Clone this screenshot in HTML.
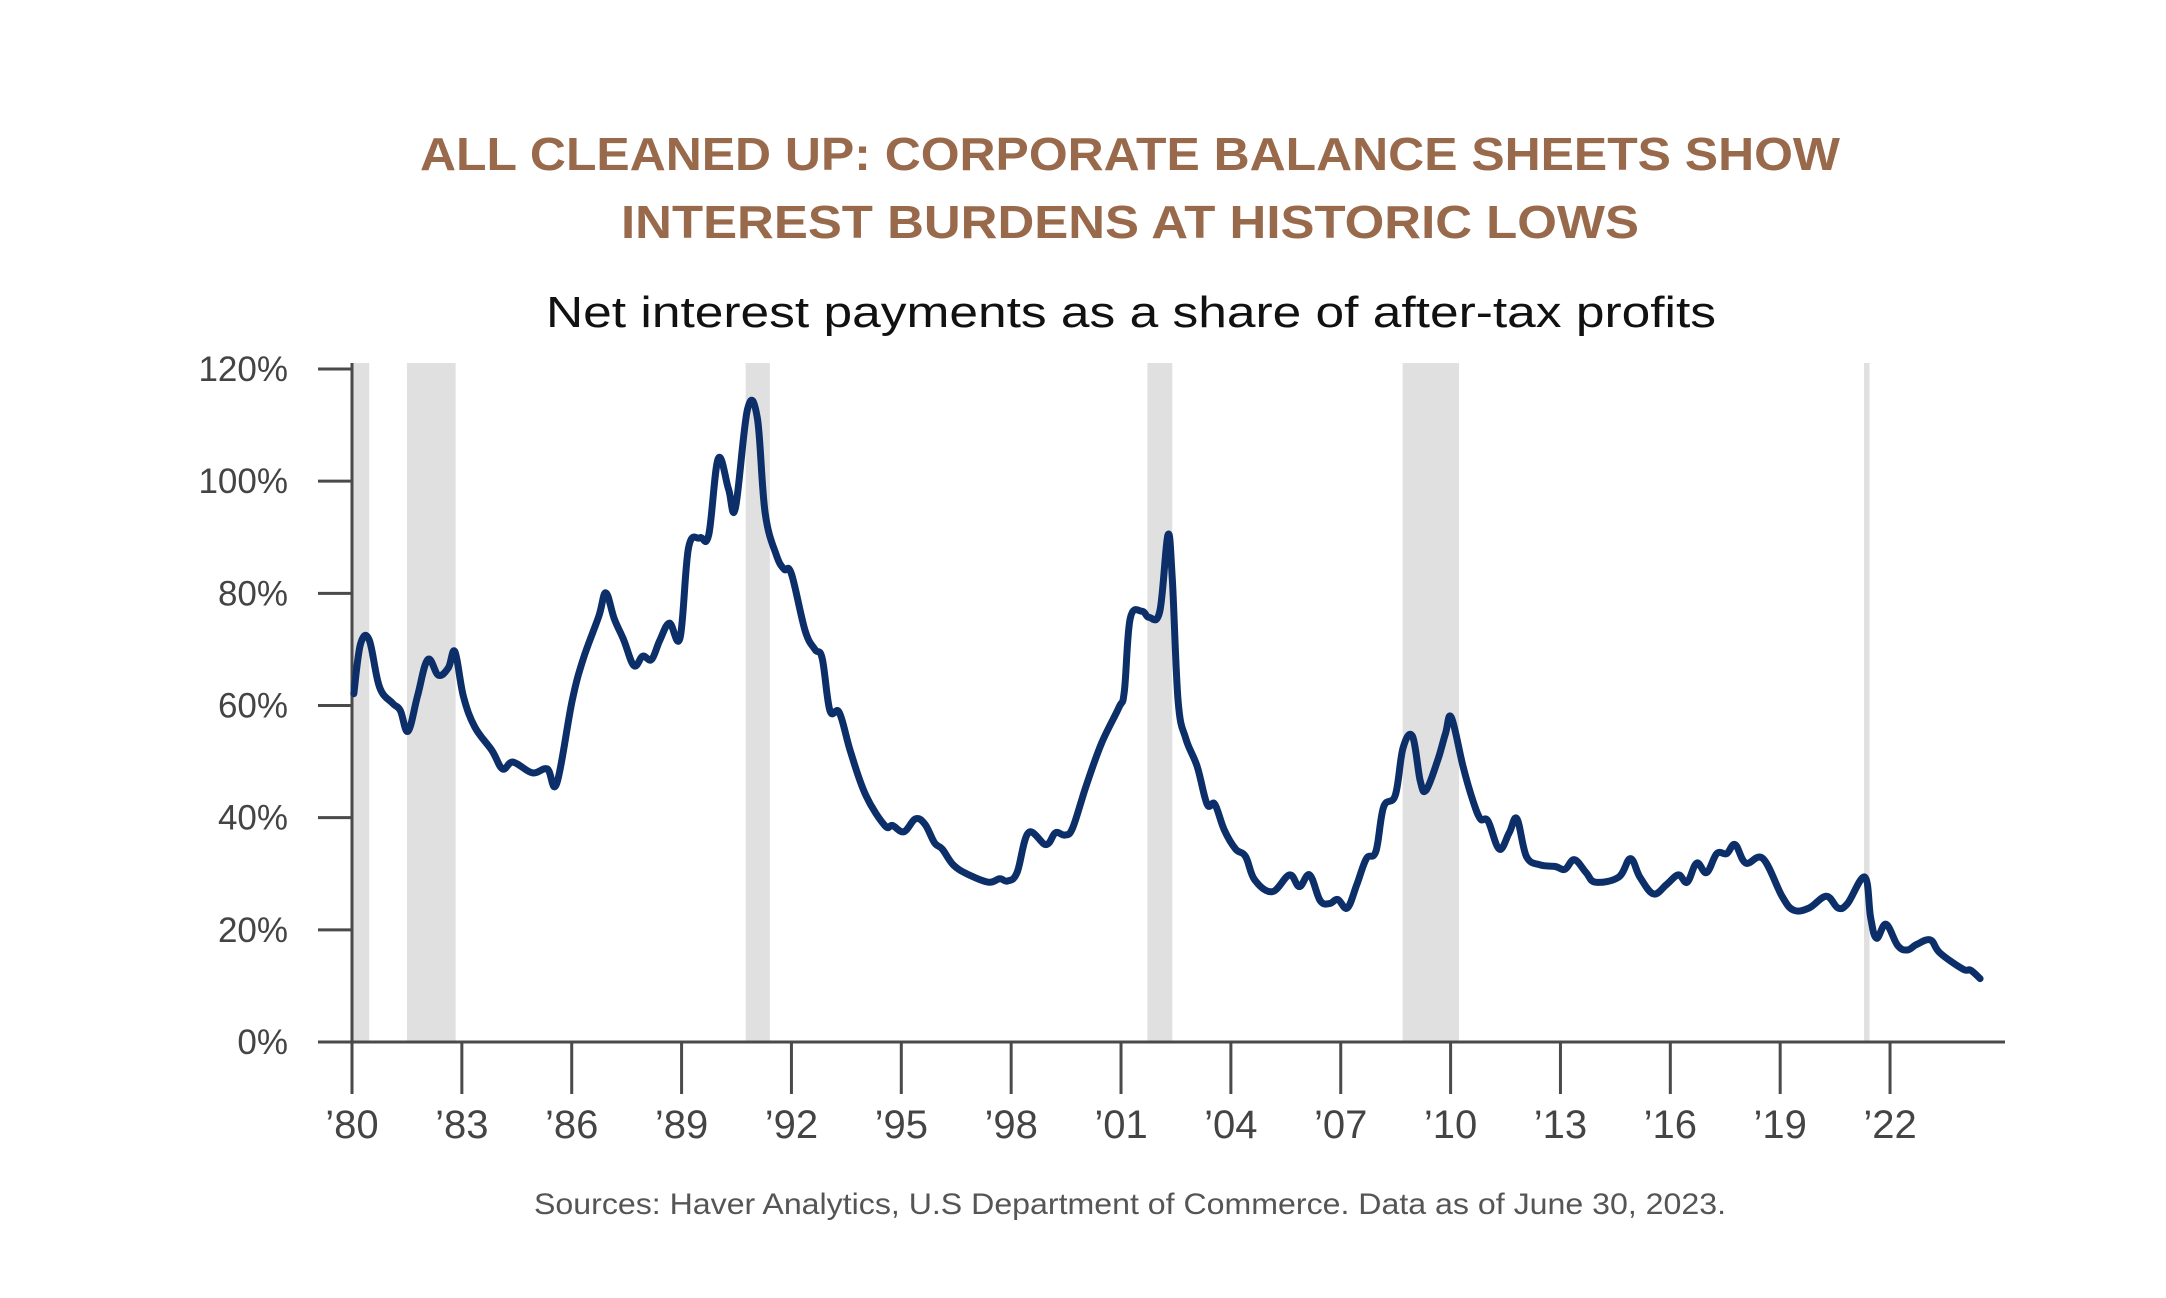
<!DOCTYPE html>
<html><head><meta charset="utf-8"><style>
html,body{margin:0;padding:0;background:#fff;}
svg{display:block;}
</style></head><body>
<svg id="chart" width="2166" height="1298" viewBox="0 0 2166 1298" xmlns="http://www.w3.org/2000/svg">
<text x="1130" y="170" text-anchor="middle" font-family="Liberation Sans, sans-serif" font-weight="bold" font-size="46" fill="#98694a" textLength="1420" lengthAdjust="spacingAndGlyphs">ALL CLEANED UP: CORPORATE BALANCE SHEETS SHOW</text>
<text x="1130" y="238" text-anchor="middle" font-family="Liberation Sans, sans-serif" font-weight="bold" font-size="46" fill="#98694a" textLength="1018" lengthAdjust="spacingAndGlyphs">INTEREST BURDENS AT HISTORIC LOWS</text>
<text x="1131" y="327" text-anchor="middle" font-family="Liberation Sans, sans-serif" font-size="44" fill="#111" textLength="1170" lengthAdjust="spacingAndGlyphs">Net interest payments as a share of after-tax profits</text>
<g id="bands"></g>
<g id="axes"></g>
<path id="line" fill="none" stroke="#0d2f69" stroke-width="7" stroke-linejoin="round" stroke-linecap="round"></path>
<text x="1130" y="1214" text-anchor="middle" font-family="Liberation Sans, sans-serif" font-size="30" fill="#555" textLength="1192" lengthAdjust="spacingAndGlyphs">Sources: Haver Analytics, U.S Department of Commerce. Data as of June 30, 2023.</text>
</svg>
<script>
const years=[1980.05,1980.23,1980.47,1980.75,1981.11,1981.32,1981.53,1981.79,1982.07,1982.36,1982.63,1982.81,1983.04,1983.35,1983.82,1984.11,1984.4,1984.92,1985.33,1985.59,1986.01,1986.32,1986.74,1986.93,1987.16,1987.42,1987.7,1987.94,1988.18,1988.41,1988.67,1988.96,1989.19,1989.5,1989.74,1990.0,1990.28,1990.47,1990.8,1991.07,1991.28,1991.59,1991.8,1992.0,1992.37,1992.64,1992.84,1993.05,1993.31,1993.62,1994.03,1994.55,1994.76,1995.07,1995.39,1995.65,1995.91,1996.12,1996.43,1996.85,1997.38,1997.69,1997.9,1998.16,1998.47,1998.95,1999.21,1999.47,1999.68,2000.05,2000.47,2000.94,2001.09,2001.25,2001.57,2001.77,2002.06,2002.28,2002.4,2002.56,2002.77,2003.08,2003.35,2003.56,2003.82,2004.13,2004.4,2004.65,2005.13,2005.6,2005.87,2006.15,2006.44,2006.7,2006.92,2007.18,2007.44,2007.7,2007.96,2008.17,2008.49,2008.7,2008.96,2009.17,2009.33,2009.65,2009.86,2010.02,2010.34,2010.6,2010.81,2011.02,2011.33,2011.6,2011.81,2012.07,2012.44,2012.86,2013.12,2013.38,2013.7,2013.96,2014.59,2014.91,2015.17,2015.54,2015.9,2016.22,2016.46,2016.72,2016.99,2017.27,2017.54,2017.77,2018.06,2018.53,2019.05,2019.37,2019.79,2020.26,2020.58,2020.84,2021.31,2021.47,2021.63,2021.89,2022.21,2022.47,2022.73,2023.1,2023.36,2023.99,2024.2,2024.46];
const values=[62.1,70.9,71.7,63.3,60.4,59.1,55.4,61.7,68.2,65.4,66.7,69.6,61.7,56.2,52.0,48.7,49.9,48.0,48.7,46.1,60.8,68.4,75.9,80.1,75.5,71.7,67.1,68.8,68.2,71.7,74.7,72.1,88.1,89.9,90.4,104,98.6,95.2,112.8,111.2,94.4,86.8,84.3,83.5,73.4,70.0,68.4,59.1,58.7,51.6,44.0,38.6,38.6,37.5,39.8,38.8,35.5,34.4,31.5,29.8,28.5,29.1,28.7,30.2,37.3,35.2,37.3,36.9,38.2,45.7,53.3,59.6,62.5,75.5,76.8,75.7,76.8,90.4,82.6,60.8,54.1,49.1,42.4,42.4,37.8,34.4,33.1,28.9,26.8,29.8,27.7,29.8,25.2,24.7,25.4,23.9,28.1,32.7,34.0,41.9,44.0,52.4,54.5,46.6,44.9,50.3,55.0,57.9,49.1,43.2,39.8,39.4,34.4,37.3,39.8,33.1,31.6,31.3,30.8,32.5,30.2,28.5,29.4,32.7,29.4,26.4,28.1,29.8,28.5,31.9,30.2,33.6,33.6,35.2,31.9,32.7,26.0,23.5,23.9,26.0,23.9,24.7,29.4,22.2,18.5,21.0,17.2,16.4,17.4,18.2,15.9,13.0,12.8,11.3];
const recStart=[1980.02,1981.5,1990.75,2001.72,2008.69,2021.29];
const recEnd=[1980.47,1982.83,1991.41,2002.4,2010.23,2021.44];
const yTicks=[0,20,40,60,80,100,120];
const xTickYears=[1980,1983,1986,1989,1992,1995,1998,2001,2004,2007,2010,2013,2016,2019,2022];
const xTickLabels=["’80","’83","’86","’89","’92","’95","’98","’01","’04","’07","’10","’13","’16","’19","’22"];
const NS='http://www.w3.org/2000/svg';
function X(yr){return 352+(yr-1980)*36.62;}
function Y(v){return 1042-v*(673/120);}
const bands=document.getElementById('bands');
for(let i=0;i<recStart.length;i++){
 const r=document.createElementNS(NS,'rect');
 
 
 r.setAttribute('x',X(recStart[i]));r.setAttribute('width',Math.max(5,X(recEnd[i])-X(recStart[i])));
 r.setAttribute('y',Y(120)-6);r.setAttribute('height',Y(0)-Y(120)+6);r.setAttribute('fill','#e0e0e0');
 bands.appendChild(r);
}
const ax=document.getElementById('axes');
function line(x1,y1,x2,y2,name){const l=document.createElementNS(NS,'line');
 
 
 l.setAttribute('x1',x1);l.setAttribute('y1',y1);l.setAttribute('x2',x2);l.setAttribute('y2',y2);
 l.setAttribute('stroke','#4a4a4a');l.setAttribute('stroke-width','3');ax.appendChild(l);}
function text(x,y,s,anchor,size,name){const t=document.createElementNS(NS,'text');
 
 
 t.setAttribute('x',x);t.setAttribute('y',y);t.setAttribute('text-anchor',anchor);
 t.setAttribute('font-family','Liberation Sans, sans-serif');t.setAttribute('font-size',size);t.setAttribute('fill','#444');
 t.textContent=s;ax.appendChild(t);}
line(352,Y(120)-6,352,Y(0),'y-axis-line');
line(318,Y(0),2005,Y(0),'x-axis-line');
yTicks.forEach(v=>{line(318,Y(v),352,Y(v),'y-tick');text(288,Y(v)+12,v+'%','end',35,'y-tick-label');});
xTickYears.forEach((yr,i)=>{line(X(yr),Y(0),X(yr),1094,'x-tick');text(X(yr),1138,xTickLabels[i],'middle',40,'x-tick-label');});
const pts=years.map((yr,i)=>[X(yr),Y(values[i])]);
let d='M'+pts[0][0].toFixed(1)+','+pts[0][1].toFixed(1);
for(let i=0;i<pts.length-1;i++){
 const p0=pts[Math.max(0,i-1)],p1=pts[i],p2=pts[i+1],p3=pts[Math.min(pts.length-1,i+2)];
 const t=0.18;
 const c1=[p1[0]+(p2[0]-p0[0])*t,p1[1]+(p2[1]-p0[1])*t];
 const c2=[p2[0]-(p3[0]-p1[0])*t,p2[1]-(p3[1]-p1[1])*t];
 d+='C'+c1[0].toFixed(1)+','+c1[1].toFixed(1)+' '+c2[0].toFixed(1)+','+c2[1].toFixed(1)+' '+p2[0].toFixed(1)+','+p2[1].toFixed(1);
}
document.getElementById('line').setAttribute('d',d);
</script>
</body></html>
